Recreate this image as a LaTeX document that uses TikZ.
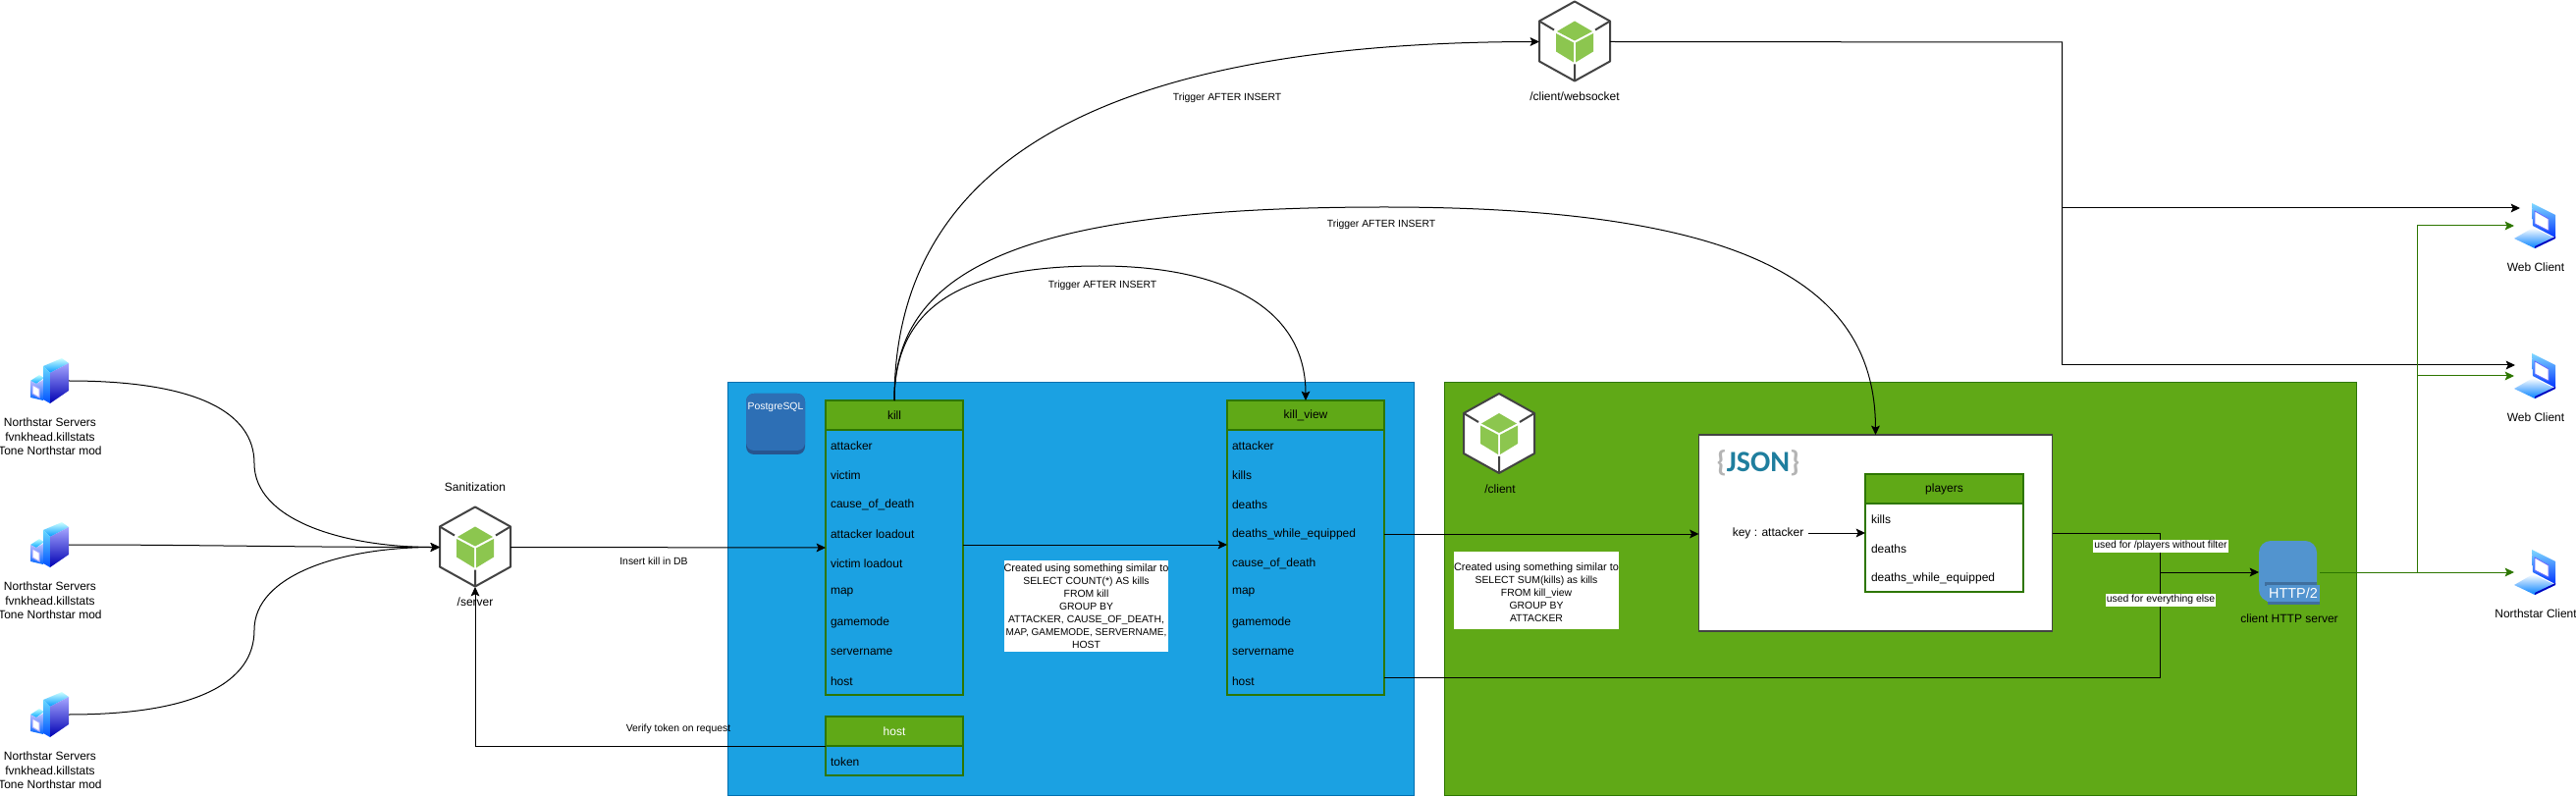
\documentclass[tikz,border=0pt]{standalone}
\usepackage{fontspec}
\setmainfont{Liberation Sans}
\newfontfamily\logofont{Carlito}
\newcommand{\fwide}{\fontsize{5.45}{6.5}\selectfont}
\newcommand{\fnarrow}{\fontsize{5}{6.5}\selectfont}
\usetikzlibrary{arrows.meta,calc}
\definecolor{pgblue}{HTML}{1BA1E2}
\definecolor{pgline}{HTML}{006EAF}
\definecolor{gr}{HTML}{60A917}
\definecolor{grline}{HTML}{2D7600}
\definecolor{hexline}{HTML}{434343}
\definecolor{cube}{HTML}{8CC64F}
\definecolor{pgicon}{HTML}{2D6FB5}
\definecolor{pgdark}{HTML}{27558F}
\definecolor{httpblue}{HTML}{5294CF}
\definecolor{httpdark}{HTML}{3F6F9E}
\definecolor{jsonteal}{HTML}{1F7E9E}
\definecolor{bracegrey}{HTML}{B4B4B4}
\tikzset{
  every node/.style={inner sep=0pt,outer sep=0pt},
  ftwelve/.style={font=\fontsize{6}{7.25}\selectfont},
  flabel/.style={font=\fontsize{5.2}{6.5}\selectfont},
  txt/.style={ftwelve,align=center},
  rowtext/.style={ftwelve,anchor=west},
  region/.style={draw=#1,line width=0.5pt},
  tbl/.style={draw=grline,line width=0.6pt,minimum width=#1,minimum height=150pt},
  thead/.style={draw=grline,fill=gr,line width=0.6pt,ftwelve,minimum width=#1,minimum height=15pt},
  notebox/.style={fill=white,flabel,align=center,minimum width=82.5pt},
  edgelabel/.style={fill=white,flabel,minimum height=6.5pt,inner xsep=0.5pt},
  plainlabel/.style={flabel},
  line/.style={draw=black,line width=0.5pt},
  arrow/.style={line,-{Stealth[length=4.7pt,width=4.4pt,inset=1pt]}},
  garrow/.style={draw=grline,line width=0.5pt,-{Stealth[length=4.7pt,width=4.4pt,inset=1pt]}},
  hexbox/.style={minimum width=36pt,minimum height=40.5pt},
  srvbox/.style={minimum width=20pt,minimum height=23pt},
  lapbox/.style={minimum width=21pt,minimum height=23pt},
  nodehex/.pic={
    \path[fill=white] (0,-41)--(36,-21)--(36,20)--(0,40)--(-36,20)--(-36,-21)--cycle;
    \fill[cube] (0,-21)--(18,-10.5)--(0,-1)--(-18,-10.5)--cycle;
    \fill[cube] (-19,-8.5)--(-1,1)--(-1,21)--(-19,10)--cycle;
    \fill[cube] (19,-8.5)--(1,1)--(1,21)--(19,10)--cycle;
    \draw[hexline,line width=1pt,line join=round] (0,-41)--(36,-21)--(36,20)--(0,40)--(-36,20)--(-36,-21)--cycle;
    \draw[hexline,line width=1pt] (-36,-21)--(-21,-12) (36,-21)--(21,-12) (0,40)--(0,23);
  },
  srvico/.pic={
    \shade[top color=cyan!25!white,bottom color=blue!35!cyan] (-19,0)--(-10,-6)--(-5,-3)--(-13,3)--cycle;
    \shade[top color=blue!25!white,bottom color=blue!60!cyan] (-19,0)--(-13,3)--(-6,-1)--(-6,20)--(-19,17)--cycle;
    \fill[white,draw=blue!35!white,line width=0.5pt] (-17,4)--(-10,8)--(-10,17)--(-17,13)--cycle;
    \shade[top color=cyan!20!white,bottom color=cyan!60!blue] (-6,-15)--(13,-23)--(20,-18)--(1,-8)--cycle;
    \shade[top color=blue!25!cyan!60!white,bottom color=blue!70!cyan] (-6,-15)--(1,-8)--(1,23)--(-6,19)--cycle;
    \shade[top color=blue!35!white,bottom color=blue!70!black] (1,-8)--(20,-18)--(20,10)--(1,23)--cycle;
  },
  lapico/.pic={
    \shade[top color=blue!30!cyan!50!white,bottom color=blue!80!cyan] (-3,-23)--(21,-11)--(21,12)--(-2,0)--cycle;
    \fill[white,draw=blue!60!white,line width=0.4pt] (0,-15)--(14,-7)--(14,5)--(0,-2)--cycle;
    \shade[top color=white,bottom color=cyan!50!blue] (-21,13)--(-2,2)--(21,13)--(0,23)--cycle;
    \fill[blue!75!black] (21,13)--(0,23)--(0,21)--(21,11)--cycle;
  }
}
\begin{document}
\begin{tikzpicture}[x=0.5pt,y=-0.5pt]
\useasboundingbox (0,0) rectangle (2624,812);

% regions
\node[region=pgline,fill=pgblue,minimum width=349.5pt,minimum height=210pt] (pg) at (1090.5,600) {};
\node[region=grline,fill=gr,minimum width=464.5pt,minimum height=210pt] (cl) at (1936,600) {};

% postgres icon
\node[fill=pgdark,rounded corners=4pt,minimum width=30pt,minimum height=31pt] (pgi) at (790,432) {};
\node[fill=pgicon,rounded corners=4pt,minimum width=30pt,minimum height=29pt] (pgt) at (790,430) {};
\node[font=\fontsize{5.2}{6}\selectfont,text=white] (pgl) at (790,415) {PostgreSQL};

% kill table
\node[tbl=70pt] (kill) at (911,558) {};
\node[thead=70pt] (killhead) at (911,423) {kill};
\foreach \t [count=\i] in {attacker,victim,cause\_of\_death,attacker loadout,victim loadout,map,gamemode,servername,host}
  \node[rowtext] (kr\i) at (846,{424+30*\i}) {\t};

% kill_view table
\node[tbl=80pt] (kview) at (1330,558) {};
\node[thead=80pt] (kviewhead) at (1330,423) {kill\_view};
\foreach \t [count=\i] in {attacker,kills,deaths,deaths\_while\_equipped,cause\_of\_death,map,gamemode,servername,host}
  \node[rowtext] (kv\i) at (1255,{424+30*\i}) {\t};

% host table
\node[draw=grline,line width=0.6pt,minimum width=70pt,minimum height=30pt] (host) at (911,760) {};
\node[thead=70pt,text=white] (hosthead) at (911,745) {host};
\node[rowtext] (hosttok) at (846,776) {token};

% notes
\node[notebox,minimum height=46.5pt] (note1) at (1106.5,617.5) {{\fwide Created using something similar to}\\SELECT COUNT(*) AS kills\\FROM kill\\GROUP BY\\ATTACKER, CAUSE\_OF\_DEATH,\\{\fnarrow MAP, GAMEMODE, SERVERNAME,}\\HOST};
\node[notebox,minimum height=39.5pt] (note2) at (1565,601.5) {\mbox{}\\{\fwide Created using something similar to}\\SELECT SUM(kills) as kills\\FROM kill\_view\\GROUP BY\\ATTACKER};

% client hex
\node[hexbox] (clienthex) at (1527,442) {};
\pic at (clienthex) {nodehex};
\node[txt] (clientlab) at (1528,498) {/client};

% JSON box
\node[draw=hexline,fill=white,line width=0.6pt,minimum width=180pt,minimum height=100pt] (json) at (1910.5,543) {};
\node[font=\logofont\bfseries\fontsize{15}{15}\selectfont] (jsonlogo) at (1791,472) {\textcolor{bracegrey}{\{}\textcolor{jsonteal}{JSON}\textcolor{bracegrey}{\}}};
\node[txt] (jsonkey) at (1801,543) {key : attacker};
\node[draw=grline,fill=white,line width=0.6pt,minimum width=80.5pt,minimum height=60pt] (players) at (1980.5,543) {};
\node[thead=80.5pt] (playershead) at (1980.5,498) {players};
\foreach \t [count=\i] in {kills,deaths,deaths\_while\_equipped}
  \node[rowtext] (pr\i) at (1906,{499+30*\i}) {\t};

% HTTP icon
\node[minimum width=31pt,minimum height=32pt] (http) at (2332,583) {};
\fill[httpblue,rounded corners=6pt] (2301,551) rectangle (2360,613);
\fill[httpdark] (2307,593) rectangle (2360,597);
\fill[httpdark] (2310,613) rectangle (2363,616);
\fill[httpblue] (2309,596) rectangle (2363,613);
\node[text=white,font=\fontsize{7.2}{8}\selectfont] (httptag) at (2336,604.5) {HTTP/2};
\node[txt] (httplab) at (2332,630) {client HTTP server};

% servers
\foreach \n/\y/\a/\b/\c in {s1/388/430/445/459,s2/555/597/612/626,s3/728/770/785/799}{
  \node[srvbox] (\n) at (50,\y) {};
  \pic at (\n) {srvico};
  \node[txt] (\n l1) at (51,\a) {Northstar Servers};
  \node[txt] (\n l2) at (51,\b) {fvnkhead.killstats};
  \node[txt] (\n l3) at (51,\c) {Tone Northstar mod};
}

% /server hex
\node[hexbox] (server) at (484,557.5) {};
\pic at (server) {nodehex};
\node[txt] (sanit) at (484,496) {Sanitization};
\node[txt] (serverlab) at (484,613) {/server};

% websocket hex
\node[hexbox] (ws) at (1604,42.5) {};
\pic at (ws) {nodehex};
\node[txt] (wslab) at (1604,98) {/client/websocket};

% laptops
\foreach \n/\y/\t in {wc1/230/Web Client,wc2/383/Web Client,nc/583/Northstar Client}{
  \node[lapbox] (\n) at (2582,\y) {};
  \pic at (\n) {lapico};
  \node[txt] (\n l) at (2583,\y+42) {\t};
}

% junctions
\coordinate (killout) at (981,555);
\coordinate (kvout) at (1410,690);
\coordinate (jroute) at (2200,543);
\coordinate (wsbranch) at (2100.5,212);
\coordinate (wsturn) at (2100.5,43);
\coordinate (wsdown) at (2100.5,372);
\coordinate (w1in) at (2567,212);
\coordinate (w2in) at (2562,372);
\coordinate (jmerge) at (2200,583);
\coordinate (kvturn) at (2200,690);
\coordinate (gbranch) at (2462,583);
\coordinate (gup1) at (2462,230);
\coordinate (gup2) at (2462,383);

% incoming curves
\draw[arrow] (s1.east) .. controls (200,388) and (259,420) .. (259,472) .. controls (259,530) and (350,557.5) .. (server.west);
\draw[arrow] (s2.east) .. controls (200,555) and (300,557.5) .. (server.west);
\draw[arrow] (s3.east) .. controls (200,728) and (259,695) .. (259,642) .. controls (259,585) and (350,557.5) .. (server.west);

% straight edges
\draw[arrow] (server.east) -- (kill.west);
\draw[arrow] (host.west) -| (server.south);
\draw[arrow] (killout) -- (kview.west |- killout);
\draw[arrow] (kview.east |- kv4) -- (json.west |- kv4);
\draw[arrow] (jsonkey.east)+(5,0) -- (players.west);
\draw[line] (json.east) -- (jroute) -- (jmerge);
\draw[line] (kvout) -- (kvturn) -- (jmerge);
\draw[arrow] (jmerge) -- (http.west);

% trigger curves
\draw[arrow] (killhead.north) .. controls (911,150) and (1150,43) .. (ws.west);
\draw[arrow] (killhead.north) .. controls (911,270) and (1050,211) .. (1410,211) .. controls (1780,211) and (1910,290) .. (json.north);
\draw[arrow] (killhead.north) .. controls (911,300) and (1000,271) .. (1120,271) .. controls (1240,271) and (1330,310) .. (kviewhead.north);

% websocket fan-out
\draw[line] (ws.east) -- (wsturn) -- (wsdown);
\draw[arrow] (wsbranch) -- (w1in);
\draw[arrow] (wsdown) -- (w2in);

% HTTP fan-out
\draw[garrow] (http.east) -- (nc.west);
\draw[garrow] (gbranch) -- (gup1) -- (wc1.west);
\draw[garrow] (gup2) -- (wc2.west);

% labels
\node[plainlabel] (lb1) at (666,572) {Insert kill in DB};
\node[plainlabel] (lb2) at (691,743) {Verify token on request};
\node[plainlabel] (lb3) at (1250,100) {Trigger AFTER INSERT};
\node[plainlabel] (lb4) at (1407,229) {Trigger AFTER INSERT};
\node[plainlabel] (lb5) at (1123,291) {Trigger AFTER INSERT};
\node[edgelabel] (lb6) at (2201,556) {used for /players without filter};
\node[edgelabel] (lb7) at (2201,611) {used for everything else};
\end{tikzpicture}
\end{document}
